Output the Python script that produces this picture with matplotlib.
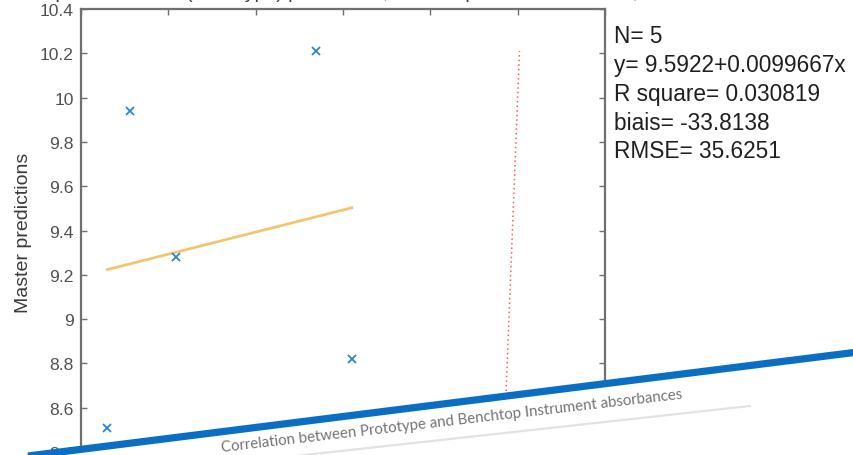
import matplotlib
matplotlib.use("Agg")
import matplotlib.pyplot as plt
from matplotlib.patches import Polygon
from matplotlib.lines import Line2D
import numpy as np

# ---------------- data ----------------
reference_x = [-37.0, -34.4, -29.1, -13.1, -9.0]
master_pred = [8.51, 9.94, 9.28, 10.21, 8.82]
fit_intercept = 9.5922
fit_slope = 0.0099667
y_ticks = [8.4, 8.6, 8.8, 9.0, 9.2, 9.4, 9.6, 9.8, 10.0, 10.2, 10.4]
y_tick_labels = ["8.4", "8.6", "8.8", "9", "9.2", "9.4", "9.6", "9.8", "10", "10.2", "10.4"]
x_ticks = [-40, -30, -20, -10, 0, 10, 20]
stats_lines = ["N= 5", "y= 9.5922+0.0099667x", "R square= 0.030819",
               "biais= -33.8138", "RMSE= 35.6251"]
y_label = "Master predictions"
caption = "Correlation between Prototype and Benchtop Instrument absorbances"
cropped_title = "Master predictions vs. (Prototype) predictions, Benchtop Instrument model, validation set"

# ---------------- figure ----------------
W, H = 854, 456
fig = plt.figure(figsize=(W / 100, H / 100), dpi=100)
fig.patch.set_facecolor("white")

def fx(px):
    return px / W

def fy(py):
    return 1 - py / H

FONT = ["Liberation Sans", "DejaVu Sans"]

ax_left, ax_right, ax_top, ax_bottom = 81, 605, 10, 453
ax = fig.add_axes([fx(ax_left), fy(ax_bottom), fx(ax_right - ax_left), (ax_bottom - ax_top) / H])

spine_col = "#707070"
for s in ax.spines.values():
    s.set_color(spine_col)
    s.set_linewidth(1.6)

ax.set_xlim(-40, 20)
ax.set_ylim(8.4, 10.4)
ax.set_xticks(x_ticks)
ax.set_yticks(y_ticks)
ax.set_yticklabels(y_tick_labels)
ax.tick_params(direction="in", length=4, width=1, top=True, right=True,
               labelbottom=False, labelsize=12.6, colors=spine_col,
               labelcolor="#505050", pad=5)
for lab in ax.get_yticklabels():
    lab.set_family(FONT)

# y = x reference line
lo, hi = min(master_pred), max(master_pred)
ax.plot([lo, hi], [lo, hi], linestyle=(0, (1, 2)), color="#ff5a5a", lw=1.1)

# fit line
fit_x = np.array([min(reference_x), max(reference_x)])
ax.plot(fit_x, fit_intercept + fit_slope * fit_x, color="#f2c66e", lw=2)

# data points
ax.plot(reference_x, master_pred, linestyle="none", marker="x", color="#2a86d0",
        markersize=6, markeredgewidth=1.3)

# y label
fig.text(fx(24), fy(233), y_label, fontsize=14, color="#3a3a3a", rotation=90,
         ha="center", va="center", family=FONT)

# stats text
baselines = [43, 72, 101, 130, 158]
for line, b in zip(stats_lines, baselines):
    fig.text(fx(614), fy(b), line, fontsize=16.3, color="#1f1f1f", va="baseline", ha="left",
             family=FONT)

# cropped title at the very top (only the bottom of its glyphs shows)
fig.text(fx(-10), fy(-1.5), cropped_title, fontsize=14, color="#3a3a3a", va="baseline", ha="left",
         family=FONT)

# white overlay below the blue stripe
x0, y0, x1, y1 = 0, 460.5, 854, 353.5
poly = Polygon([(fx(x0), fy(y0)), (fx(x1), fy(y1)), (fx(x1), fy(470)), (fx(x0), fy(470))],
               closed=True, transform=fig.transFigure, facecolor="white", edgecolor="none",
               zorder=10)
fig.add_artist(poly)

# faint gray underline
fig.add_artist(Line2D([fx(300), fx(750)], [fy(456.5), fy(407)], transform=fig.transFigure,
                      color="#e2e2e2", lw=1.6, zorder=11))

# caption
ang = np.degrees(np.arctan((452 - 399) / (680 - 222)))
fig.text(fx(222), fy(452), caption, fontsize=10.8, color="#747474", rotation=ang,
         rotation_mode="anchor", ha="left", va="baseline", zorder=12,
         family=["Lato", "DejaVu Sans"])

# blue stripe
k = (y0 - y1) / (x1 - x0)
fig.add_artist(Line2D([fx(x0 - 10), fx(x1 + 10)],
                      [fy(y0 + 10 * k), fy(y1 - 10 * k)],
                      transform=fig.transFigure, color="#0a6fc2", lw=5.2,
                      solid_capstyle="butt", zorder=13))

fig.savefig("out.png", dpi=100, facecolor="white")
